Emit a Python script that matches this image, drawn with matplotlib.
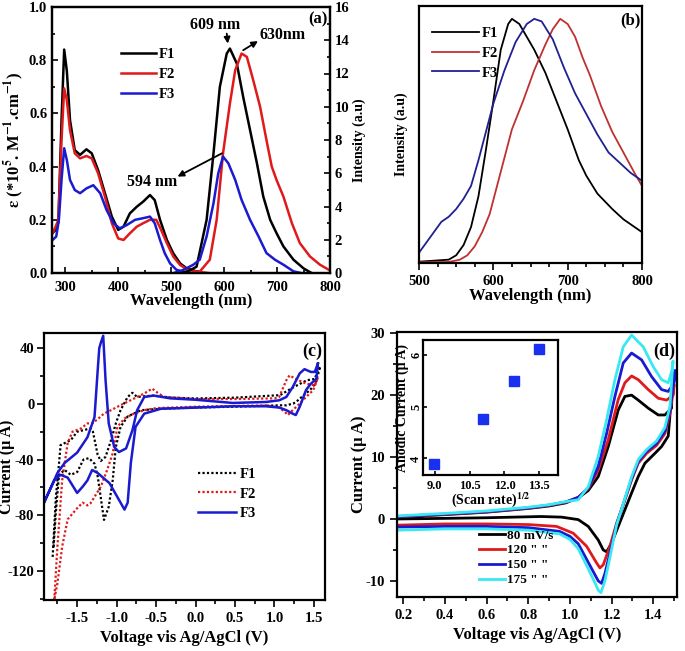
import numpy as np
import matplotlib.pyplot as plt
from matplotlib.ticker import MultipleLocator

plt.rcParams['font.family'] = ['Liberation Serif', 'DejaVu Serif']
plt.rcParams['font.weight'] = 'bold'
plt.rcParams['axes.labelweight'] = 'bold'
plt.rcParams['mathtext.fontset'] = 'stix'
plt.rcParams['axes.linewidth'] = 1.6
plt.rcParams['axes.unicode_minus'] = False

# ---------------- panel (a): absorption (left axis) ----------------
abs_f1_wl = [276, 281, 287, 293, 298, 303, 309, 318, 328, 340, 350, 362, 375, 388, 400, 410, 422,
             435, 447, 460, 469, 479, 492, 504, 517, 529, 542, 555]
abs_f1 = [0.15, 0.16, 0.19, 0.575, 0.84, 0.76, 0.575, 0.462, 0.444, 0.465, 0.45, 0.387, 0.30, 0.212,
          0.162, 0.174, 0.224, 0.249, 0.268, 0.293, 0.274, 0.20, 0.124, 0.074, 0.036, 0.018, 0.01, 0.0]
abs_f2_wl = [276, 281, 287, 293, 298, 303, 309, 318, 328, 340, 350, 362, 375, 388, 400, 410, 422,
             435, 447, 460, 472, 481, 492, 504, 517, 529, 545, 570]
abs_f2 = [0.15, 0.17, 0.2, 0.5, 0.694, 0.65, 0.537, 0.45, 0.431, 0.44, 0.431, 0.375, 0.287, 0.187,
          0.13, 0.124, 0.149, 0.174, 0.187, 0.2, 0.2, 0.162, 0.112, 0.062, 0.03, 0.015, 0.006, 0.0]
abs_f3_wl = [276, 283, 288, 293, 298, 303, 309, 318, 328, 340, 353, 366, 378, 391, 403, 416, 432,
             447, 460, 469, 479, 488, 498, 510, 523, 535]
abs_f3 = [0.124, 0.137, 0.2, 0.35, 0.469, 0.425, 0.35, 0.312, 0.30, 0.318, 0.33, 0.30, 0.237, 0.187,
          0.168, 0.18, 0.20, 0.206, 0.212, 0.187, 0.124, 0.074, 0.036, 0.012, 0.005, 0.0]

# ---------------- panel (a): emission (right axis, 0-16) ----------------
em_f1_wl = [520, 535, 548, 567, 580, 592, 605, 611, 624, 636, 649, 662, 674, 687, 699, 712, 731, 750, 765]
em_f1 = [0.0, 0.15, 0.38, 3.2, 7.2, 11.2, 13.2, 13.5, 12.6, 10.6, 8.6, 6.6, 4.6, 3.2, 2.4, 1.6, 0.8, 0.28, 0.0]
em_f2_wl = [540, 554, 573, 586, 598, 611, 621, 633, 643, 655, 668, 680, 690, 699, 712, 728, 743, 762, 781, 800]
em_f2 = [0.0, 0.08, 0.8, 3.2, 7.2, 10.2, 12.2, 13.2, 13.0, 11.6, 10.0, 8.0, 6.4, 5.6, 4.6, 3.0, 1.8, 1.0, 0.5, 0.15]
em_f3_wl = [505, 520, 530, 542, 554, 567, 580, 589, 598, 608, 621, 633, 649, 665, 680, 696, 712, 731, 745]
em_f3 = [0.0, 0.15, 0.3, 0.5, 0.8, 2.2, 4.2, 6.0, 7.0, 6.6, 5.6, 4.4, 3.2, 2.2, 1.2, 0.8, 0.5, 0.1, 0.0]

# ---------------- panel (b): normalised emission ----------------
pl_f1_wl = [500, 540, 550, 560, 570, 580, 590, 600, 610, 620, 625, 635, 645, 655, 670, 685, 700, 715,
            725, 740, 750, 760, 775, 790, 800]
pl_f1 = [0.005, 0.013, 0.03, 0.07, 0.14, 0.26, 0.44, 0.63, 0.83, 0.93, 0.95, 0.93, 0.88, 0.83, 0.74,
         0.63, 0.52, 0.40, 0.34, 0.27, 0.24, 0.21, 0.17, 0.14, 0.12]
pl_f2_wl = [500, 540, 555, 565, 575, 585, 595, 605, 615, 625, 640, 655, 670, 680, 690, 700, 710, 720,
            730, 745, 760, 775, 790, 800]
pl_f2 = [0.003, 0.004, 0.013, 0.03, 0.065, 0.12, 0.19, 0.30, 0.41, 0.52, 0.63, 0.75, 0.85, 0.91, 0.95,
         0.93, 0.88, 0.80, 0.73, 0.61, 0.51, 0.43, 0.35, 0.30]
pl_f3_wl = [500, 510, 520, 530, 540, 550, 560, 570, 580, 590, 600, 615, 630, 645, 655, 665, 680, 695,
            710, 725, 740, 755, 770, 785, 800]
pl_f3 = [0.04, 0.08, 0.12, 0.16, 0.18, 0.21, 0.25, 0.30, 0.40, 0.51, 0.62, 0.75, 0.86, 0.93, 0.95,
         0.94, 0.87, 0.76, 0.66, 0.58, 0.50, 0.43, 0.39, 0.35, 0.32]

# ---------------- panel (c): cyclic voltammograms ----------------
cv_f1_v = [-1.81, -1.77, -1.73, -1.71, -1.58, -1.50, -1.33, -1.30, -1.24, -1.20, -1.14, -1.07, -1.01,
           -0.95, -0.86, -0.80, -0.74, -0.65, -0.53, -0.30, 0.0, 0.5, 1.07, 1.24, 1.41, 1.51, 1.55, 1.58,
           1.52, 1.45, 1.37, 1.30, 1.24, 1.15, 1.07, 0.5, 0.0, -0.44, -0.69, -0.86, -0.95, -1.01, -1.05,
           -1.10, -1.16, -1.24, -1.28, -1.35, -1.42, -1.50, -1.58, -1.66, -1.73, -1.77, -1.80]
cv_f1_i = [-110, -67, -43, -29.6, -26, -20, -17.6, -20, -36.6, -41, -38, -26, -14, -4.5, 5, 8, 5,
           5.5, 6, 4.5, 3.9, 4.5, 6.3, 12, 17, 18, 24, 27, 14.7, 10, 6.3, 2.7, 0.3, -1, -1, -2, -2.6,
           -3.5, -4.5, -9, -16.5, -31, -55, -74, -83.4, -52, -43, -39, -40, -49, -51, -47.5, -51,
           -78, -104]
cv_f2_v = [-1.79, -1.75, -1.69, -1.62, -1.56, -1.45, -1.37, -1.31, -1.24, -1.16, -1.07, -0.95, -0.82,
           -0.65, -0.55, -0.48, -0.40, -0.23, 0.0, 0.5, 1.0, 1.06, 1.15, 1.19, 1.27, 1.40, 1.51, 1.55,
           1.49, 1.40, 1.32, 1.23, 1.17, 1.13, 1.06, 0.89, 0.5, 0.0, -0.5, -0.65, -0.78, -0.90, -0.99,
           -1.05, -1.12, -1.20, -1.33, -1.37, -1.43, -1.50, -1.56, -1.62, -1.69, -1.75, -1.79]
cv_f2_i = [-141, -102.6, -55, -28, -20, -17.6, -14, -14, -11, -6.9, -4.5, -0.9, 2.7, 7.5, 11, 8, 5,
           4.5, 3.5, 3.5, 4.0, 5, 17, 20.5, 18, 14.6, 13.4, 19, 9.8, 5, 0.2, -4.5, -8, -5.7, -2.6, -1,
           -1.5, -2, -3, -4.5, -6.9, -10.5, -16.5, -35.6, -47.5, -59.5, -71.4, -73, -71, -75, -79, -83,
           -102.6, -129, -141]
cv_f3_v = [1.55, 1.51, 1.46, 1.38, 1.32, 1.23, 1.15, 1.06, 0.89, 0.47, 0.0, -0.32, -0.53, -0.65, -0.74,
           -0.80, -0.88, -0.97, -1.03, -1.10, -1.14, -1.17, -1.20, -1.22, -1.24, -1.28, -1.37, -1.50,
           -1.66, -1.75, -1.92, -1.79, -1.71, -1.62, -1.50, -1.43, -1.37, -1.31, -1.24, -1.09, -0.99,
           -0.90, -0.86, -0.82, -0.76, -0.65, -0.44, -0.02, 0.47, 0.89, 1.06, 1.15, 1.23, 1.27, 1.32,
           1.40, 1.46, 1.53, 1.55]
cv_f3_i = [29, 23, 23, 25, 22, 12, 5, 2.6, 1.4, 0.7, 3.0, 4, 6, 5, -4.5, -19, -32, -34.6, -31, -14, 17,
           49, 44, 40, 24, -9.5, -24, -35, -42.5, -49.7, -71, -55, -51, -53, -64, -59.5, -55, -47.5,
           -49.7, -57, -67, -76, -71, -42.5, -16.5, -7, -3.5, -2.7, -1.7, -1.7, -2.6, -4.5, -7, -8, -2,
           10, 14.5, 18, 29]

# ---------------- panel (d): scan-rate series ----------------
rate_labels = ['80 mV/s', '120 " "', '150 " "', '175 " "']
d80_v = [0.17, 0.4, 0.6, 0.8, 0.9, 0.98, 1.04, 1.088, 1.136, 1.184, 1.232, 1.264, 1.296, 1.328, 1.376,
         1.424, 1.456, 1.488, 1.49, 1.472, 1.44, 1.408, 1.36, 1.328, 1.296, 1.264, 1.232, 1.2, 1.176,
         1.16, 1.136, 1.088, 1.04, 0.96, 0.86, 0.6, 0.4, 0.17]
d80_i = [0.3, 0.7, 1.1, 1.7, 2.1, 2.6, 3.4, 4.6, 6.85, 11.7, 17.6, 19.8, 20.0, 19.2, 17.9, 16.8, 16.8,
         17.9, 20.8, 13.4, 11.7, 10.6, 9.0, 6.85, 4.2, 1.5, -1.2, -3.9, -5.3, -5.0, -3.4, -1.2, -0.1,
         0.3, 0.4, 0.2, 0.1, 0.0]
d120_v = [0.17, 0.4, 0.6, 0.8, 0.9, 0.98, 1.04, 1.088, 1.136, 1.184, 1.232, 1.264, 1.296, 1.328, 1.376,
          1.424, 1.464, 1.496, 1.5, 1.48, 1.456, 1.416, 1.368, 1.328, 1.296, 1.264, 1.224, 1.192, 1.16,
          1.144, 1.128, 1.08, 1.016, 0.936, 0.8, 0.6, 0.4, 0.17]
d120_i = [0.35, 0.75, 1.15, 1.75, 2.2, 2.7, 3.5, 4.9, 7.9, 12.8, 19.3, 22.0, 23.1, 22.5, 20.9, 19.5,
          19.2, 20.0, 21.7, 17.1, 13.8, 11.9, 10.6, 9.0, 6.3, 3.1, -0.7, -4.4, -7.4, -7.9, -7.1, -4.4,
          -2.3, -1.2, -0.9, -0.8, -0.8, -1.0]
d150_v = [0.17, 0.4, 0.6, 0.8, 0.9, 0.98, 1.04, 1.088, 1.136, 1.176, 1.216, 1.256, 1.296, 1.344, 1.392,
          1.44, 1.472, 1.5, 1.505, 1.48, 1.456, 1.416, 1.368, 1.328, 1.296, 1.264, 1.224, 1.192, 1.168,
          1.152, 1.136, 1.12, 1.08, 1.04, 1.0, 0.95, 0.8, 0.6, 0.4, 0.17]
d150_i = [0.4, 0.8, 1.2, 1.8, 2.25, 2.75, 3.5, 5.0, 8.5, 13.8, 19.8, 25.2, 26.8, 25.7, 23.0, 20.9, 20.6,
          22.0, 24.0, 17.5, 14.2, 12.2, 10.9, 9.3, 6.5, 3.2, -0.9, -5.5, -8.8, -10.4, -10.0, -9.0,
          -6.5, -4.0, -2.8, -2.0, -1.4, -1.2, -1.2, -1.3]
d175_v = [0.17, 0.4, 0.6, 0.8, 0.9, 0.98, 1.04, 1.088, 1.136, 1.176, 1.216, 1.256, 1.296, 1.352, 1.40,
          1.44, 1.472, 1.49, 1.495, 1.48, 1.456, 1.416, 1.368, 1.328, 1.296, 1.264, 1.224, 1.192, 1.168,
          1.149, 1.136, 1.12, 1.08, 1.04, 1.0, 0.95, 0.8, 0.6, 0.4, 0.17]
d175_i = [0.5, 0.9, 1.3, 1.9, 2.3, 2.8, 3.1, 5.2, 10.1, 16.0, 22.5, 27.8, 29.7, 27.8, 24.6, 22.5, 22.0,
          24.0, 25.5, 18.2, 14.8, 12.6, 11.2, 9.6, 6.8, 3.3, -1.0, -6.2, -10.0, -11.9, -11.5, -10.3,
          -7.5, -4.8, -3.3, -2.4, -1.8, -1.6, -1.6, -1.8]

# inset: anodic current vs sqrt(scan rate)
sqrt_rate = [8.96, 11.06, 12.4, 13.49]
anodic_i = [3.9, 4.77, 5.49, 6.12]

W, H = 685, 651
fig = plt.figure(figsize=(W / 100, H / 100), dpi=100)


def rect(x0, y0, x1, y1):
    return [x0 / W, 1 - y1 / H, (x1 - x0) / W, (y1 - y0) / H]


BLK, RED, BLU, CYN = '#000000', '#e01a1a', '#1a1ad0', '#38e8f2'
FS = 10.5

# ---- (a) ----
ax = fig.add_axes(rect(52, 7, 330, 273))
ax.plot(abs_f1_wl, abs_f1, color=BLK, lw=1.8, label='F1')
ax.plot(abs_f2_wl, abs_f2, color=RED, lw=1.8, label='F2')
ax.plot(abs_f3_wl, abs_f3, color=BLU, lw=1.8, label='F3')
ax.set_xlim(275, 800)
ax.set_ylim(0, 1.0)
ax.xaxis.set_major_locator(MultipleLocator(100))
ax.xaxis.set_minor_locator(MultipleLocator(50))
ax.yaxis.set_major_locator(MultipleLocator(0.2))
ax.yaxis.set_minor_locator(MultipleLocator(0.1))
ax.tick_params(which='both', direction='in', labelsize=FS, width=1.2)
ax.tick_params(which='major', length=4)
ax.tick_params(which='minor', length=2.5)
ax.tick_params(axis='x', pad=6)
ax.set_ylabel(r'$\mathbf{\varepsilon}$ (*10$^{\mathbf{5}}$. M$^{\mathbf{-1}}$.cm$^{\mathbf{-1}}$)',
              fontsize=12, labelpad=2)
ax.set_xlabel('Wavelength (nm)', fontsize=12, labelpad=-1)
ax.legend(loc='upper left', bbox_to_anchor=(0.2, 0.895), frameon=False, fontsize=FS,
          handlelength=2.4, handletextpad=0.2, labelspacing=0.45)
axr = ax.twinx()
axr.plot(em_f1_wl, em_f1, color=BLK, lw=1.8)
axr.plot(em_f2_wl, em_f2, color=RED, lw=1.8)
axr.plot(em_f3_wl, em_f3, color=BLU, lw=1.8)
axr.set_ylim(0, 16)
axr.yaxis.set_major_locator(MultipleLocator(2))
axr.yaxis.set_minor_locator(MultipleLocator(1))
axr.tick_params(which='both', direction='in', labelsize=FS, width=1.2)
axr.tick_params(which='major', length=4)
axr.tick_params(which='minor', length=2.5)
axr.set_ylabel('Intensity (a.u)', fontsize=10, labelpad=2)
arrow = dict(arrowstyle='-|>', color='k', lw=1.3, mutation_scale=9, shrinkA=0, shrinkB=0)
axr.text(583, 14.9, '609 nm', ha='center', va='center', fontsize=11.5)
axr.annotate('', xy=(607, 13.8), xytext=(605, 14.4), arrowprops=arrow)
axr.text(711, 14.3, '630nm', ha='center', va='center', fontsize=11.5)
axr.annotate('', xy=(664, 13.95), xytext=(636, 13.4), arrowprops=arrow)
axr.text(464, 5.5, '594 nm', ha='center', va='center', fontsize=11.5)
axr.annotate('', xy=(512, 5.8), xytext=(596, 7.2), arrowprops=arrow)
ax.text(0.955, 0.985, '(a)', transform=ax.transAxes, ha='center', va='top', fontsize=12)

# ---- (b) ----
bx = fig.add_axes(rect(419, 6, 642, 263))
bx.plot(pl_f1_wl, pl_f1, color=BLK, lw=1.3, label='F1')
bx.plot(pl_f2_wl, pl_f2, color='#c03030', lw=1.3, label='F2')
bx.plot(pl_f3_wl, pl_f3, color='#202090', lw=1.3, label='F3')
bx.set_xlim(500, 800)
bx.set_ylim(0, 1.0)
bx.set_yticks([])
bx.xaxis.set_major_locator(MultipleLocator(100))
bx.xaxis.set_minor_locator(MultipleLocator(25))
bx.tick_params(which='both', direction='out', labelsize=FS, width=1.2)
bx.tick_params(which='major', length=5)
bx.tick_params(which='minor', length=3)
bx.set_xlabel('Wavelength (nm)', fontsize=12, labelpad=0)
bx.set_ylabel('Intensity (a.u)', fontsize=10, labelpad=8)
bx.legend(loc='upper left', bbox_to_anchor=(0.0, 0.97), frameon=False, fontsize=FS,
          handlelength=3.2, handletextpad=0.2, labelspacing=0.45)
bx.text(0.95, 0.975, '(b)', transform=bx.transAxes, ha='center', va='top', fontsize=12)

# ---- (c) ----
cx = fig.add_axes(rect(44, 333, 325, 600))
cx.plot(cv_f1_v, cv_f1_i, color=BLK, lw=1.6, ls=(0, (1, 1)), label='F1')
cx.plot(cv_f2_v, cv_f2_i, color=RED, lw=1.6, ls=(0, (1, 1)), label='F2')
cx.plot(cv_f3_v, cv_f3_i, color=BLU, lw=1.8, label='F3')
cx.set_xlim(-1.92, 1.64)
cx.set_ylim(-141, 51)
cx.xaxis.set_major_locator(MultipleLocator(0.5))
cx.xaxis.set_minor_locator(MultipleLocator(0.25))
cx.yaxis.set_major_locator(MultipleLocator(40))
cx.yaxis.set_minor_locator(MultipleLocator(20))
cx.tick_params(which='both', direction='out', labelsize=FS, width=1.2)
cx.tick_params(which='major', length=5)
cx.tick_params(which='minor', length=3)
cx.tick_params(axis='y', pad=2)
cx.set_xlabel('Voltage vis Ag/AgCl (V)', fontsize=12)
cx.set_ylabel('Current (µ A)', fontsize=11.5)
cx.yaxis.set_label_coords(-0.104, 0.5)
cx.legend(loc='upper left', bbox_to_anchor=(0.5, 0.545), frameon=False, fontsize=FS,
          handlelength=2.6, handletextpad=0.3, labelspacing=0.45)
cx.text(0.955, 0.965, '(c)', transform=cx.transAxes, ha='center', va='top', fontsize=13)

# ---- (d) ----
dx = fig.add_axes(rect(397, 332, 677, 597))
for vv, ii, col, lab in [(d80_v, d80_i, BLK, rate_labels[0]), (d120_v, d120_i, RED, rate_labels[1]),
                         (d150_v, d150_i, BLU, rate_labels[2]), (d175_v, d175_i, CYN, rate_labels[3])]:
    dx.plot(vv, ii, color=col, lw=2.0, label=lab)
dx.set_xlim(0.17, 1.514)
dx.set_ylim(-12.6, 30.2)
dx.xaxis.set_major_locator(MultipleLocator(0.2))
dx.xaxis.set_minor_locator(MultipleLocator(0.1))
dx.yaxis.set_major_locator(MultipleLocator(10))
dx.yaxis.set_minor_locator(MultipleLocator(5))
dx.tick_params(which='both', direction='out', labelsize=FS, width=1.2)
dx.tick_params(which='major', length=5)
dx.tick_params(which='minor', length=3)
dx.set_xlabel('Voltage vis Ag/AgCl (V)', fontsize=12)
dx.set_ylabel('Current (µ A)', fontsize=12)
dx.yaxis.set_label_coords(-0.107, 0.5)
dx.legend(loc='upper left', bbox_to_anchor=(0.25, 0.30), frameon=False, fontsize=9.5,
          handlelength=2.0, handletextpad=0.1, labelspacing=0.2)
dx.text(0.955, 0.96, '(d)', transform=dx.transAxes, ha='center', va='top', fontsize=13)

ix = fig.add_axes(rect(423, 340, 558, 475))
ix.plot(sqrt_rate, anodic_i, 's', color='#1a30f0', ms=7)
ix.set_xlim(8.5, 14.3)
ix.set_ylim(3.68, 6.29)
ix.set_xticks([9.0, 10.5, 12.0, 13.5])
ix.set_xticklabels(['9.0', '10.5', '12.0', '13.5'])
ix.set_yticks([4, 5, 6])
ix.tick_params(which='both', direction='in', labelsize=9, width=1.2, length=3)
ix.tick_params(axis='y', rotation=90, pad=0.5)
for lbl in ix.get_yticklabels():
    lbl.set_va('center')
ix.set_xlabel('(Scan rate)$^{\\mathbf{1/2}}$', fontsize=10, labelpad=-1)
ix.set_ylabel('Anodic Current (µ A)', fontsize=10)
ix.yaxis.set_label_coords(-0.105, 0.5)
for s in ix.spines.values():
    s.set_linewidth(1.6)

fig.savefig('out.png', dpi=100)
